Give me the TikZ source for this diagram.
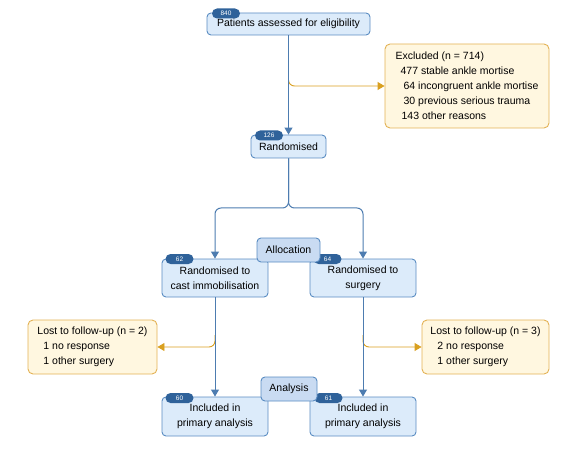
\documentclass[tikz,border=0pt]{standalone}
\usepackage{fontspec}
\setmainfont{Liberation Sans}
\usetikzlibrary{arrows.meta}
\definecolor{boxfill}{HTML}{DCEBFA}
\definecolor{boxline}{HTML}{5A8CC2}
\definecolor{badgecol}{HTML}{2F629A}
\definecolor{lblfill}{HTML}{C9DBF2}
\definecolor{exfill}{HTML}{FFF7E0}
\definecolor{exline}{HTML}{E3B255}
\definecolor{exarrow}{HTML}{D9A020}
\definecolor{conn}{HTML}{4D7CB0}
\tikzset{
  bluebox/.style={draw=boxline, fill=boxfill, rounded corners=4pt, line width=0.9pt, align=center,
    font=\fontsize{10.5}{15}\selectfont, inner sep=0pt},
  lblbox/.style={draw=boxline, fill=lblfill, rounded corners=4pt, line width=0.9pt,
    font=\fontsize{10.5}{13}\selectfont, inner sep=0pt},
  badge/.style={fill=badgecol, text=white, rounded corners=5pt, font=\fontsize{6.5}{7}\selectfont,
    minimum width=28pt, minimum height=10pt, inner sep=0pt},
  exbox/.style={draw=exline, fill=exfill, rounded corners=5pt, line width=0.9pt, align=left,
    font=\fontsize{10.5}{15}\selectfont, inner sep=0pt},
  connline/.style={draw=conn, line width=1pt, -{Triangle[length=7pt,width=8pt]}},
  exconn/.style={draw=exarrow, line width=0.9pt, rounded corners=6pt, -{Triangle[length=7pt,width=8pt]}, fill=none}
}
\begin{document}
\begin{tikzpicture}[x=1pt,y=-1pt]
\useasboundingbox (0,0) rectangle (578,449);
% boxes
\node[bluebox, minimum width=163pt, minimum height=22pt] (elig) at (288.5,24) {Patients assessed for eligibility};
\node[badge] (b840) at (226,13.5) {840};
\node[exbox, minimum width=164pt, minimum height=84pt] (excl) at (467,86)
 {Excluded (n = 714)\\\hspace*{5pt}477 stable ankle mortise\\\hspace*{8pt}64 incongruent ankle mortise\\\hspace*{8pt}30 previous serious trauma\\\hspace*{6pt}143 other reasons};
\node[bluebox, minimum width=75pt, minimum height=23pt] (rand) at (288.5,146.5) {Randomised};
\node[badge] (b126) at (269,135.5) {126};
\node[bluebox, minimum width=106pt, minimum height=38pt] (castA) at (215,278) {Randomised to\\cast immobilisation};
\node[badge] (b62) at (179.5,259) {62};
\node[bluebox, minimum width=106pt, minimum height=38pt] (surgA) at (363,278) {Randomised to\\surgery};
\node[badge] (b64) at (327.5,259) {64};
\node[lblbox, minimum width=63pt, minimum height=24pt] (alloc) at (288.5,250) {Allocation};
\node[exbox, minimum width=129pt, minimum height=54pt] (lostA) at (92.5,347)
 {Lost to follow-up (n = 2)\\\hspace*{6pt}1 no response\\\hspace*{6pt}1 other surgery};
\node[exbox, minimum width=127pt, minimum height=54pt] (lostB) at (485.5,347)
 {Lost to follow-up (n = 3)\\\hspace*{7pt}2 no response\\\hspace*{7pt}1 other surgery};
\node[bluebox, minimum width=106pt, minimum height=39pt] (inclA) at (215,416.5) {Included in\\primary analysis};
\node[badge] (b60) at (179.5,398) {60};
\node[bluebox, minimum width=106pt, minimum height=39pt] (inclB) at (363,416.5) {Included in\\primary analysis};
\node[badge] (b61) at (328.5,398) {61};
\node[lblbox, minimum width=56pt, minimum height=24pt] (anal) at (289,389) {Analysis};
% connectors
\coordinate (exstart) at (288.5,70);
\coordinate (split) at (288.5,208);
\coordinate (lostAstart) at (215,335);
\coordinate (lostBstart) at (363,335);
\draw[exconn] (exstart) |- (excl.west);
\draw[exconn] (lostAstart) |- (lostA.east);
\draw[exconn] (lostBstart) |- (lostB.west);
\draw[connline] (elig.south) -- (rand.north);
\draw[connline, rounded corners=6pt] (rand.south) -- (split) -| (castA.north);
\draw[connline, rounded corners=6pt] (rand.south) -- (split) -| (surgA.north);
\draw[connline] (castA.south) -- (inclA.north);
\draw[connline] (surgA.south) -- (inclB.north);
\end{tikzpicture}
\end{document}
